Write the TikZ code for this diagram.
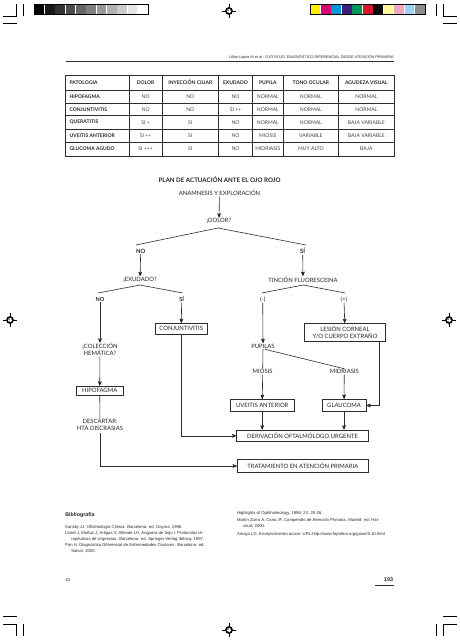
\documentclass[tikz,border=0pt]{standalone}
\usepackage{fontspec}
\setmainfont{Lato}
\newfontfamily\arialfont{Liberation Sans}
\usetikzlibrary{arrows,calc}
\definecolor{line_gray}{RGB}{45,45,45}
\definecolor{text_gray}{RGB}{40,40,40}
\definecolor{cell_gray}{RGB}{70,70,70}
\definecolor{bar_yel}{RGB}{255,236,0}
\definecolor{bar_mag}{RGB}{214,0,110}
\definecolor{bar_cya}{RGB}{0,150,214}
\definecolor{bar_pur}{RGB}{58,31,122}
\definecolor{bar_gre}{RGB}{0,149,90}
\definecolor{bar_red}{RGB}{215,24,42}
\definecolor{bar_bla}{RGB}{10,10,10}
\definecolor{bar_lye}{RGB}{255,246,160}
\definecolor{bar_pin}{RGB}{243,166,192}
\definecolor{bar_lbl}{RGB}{158,211,240}
\definecolor{bar_gra}{RGB}{140,140,140}

\begin{document}
\begin{tikzpicture}[x=1pt,y=-1pt,>=stealth',semithick]
    \tikzstyle{lbl}=[text=text_gray, font=\fontsize{5.9}{6.6}\selectfont, inner sep=0.5pt, align=center]
    \tikzstyle{box}=[lbl, draw=line_gray, thick, inner sep=0pt]
    \tikzstyle{tab}=[draw=line_gray, semithick]
    \tikzstyle{thead}=[text=text_gray, font=\fontsize{5}{6}\selectfont\bfseries, inner sep=0pt]
    \tikzstyle{tcell}=[text=cell_gray, font=\fontsize{5.1}{6}\selectfont, inner sep=0pt]
    \tikzstyle{bib}=[text=text_gray, font=\arialfont\fontsize{4.2}{5}\selectfont, inner sep=0pt, anchor=base west]
    \tikzstyle{prmark}=[draw=black, line width=0.45pt]
    \tikzstyle{wire}=[draw=line_gray]

    \useasboundingbox[fill=white] (0,0) rectangle (460,640);

    % print marks
    \foreach \i in {0,...,10}{
      \pgfmathtruncatemacro{\g}{100-10*\i}
      \fill[black!\g] (34.5+10.36*\i,4.5) rectangle ++(9.7,9.5);
    }
    \draw[prmark] (34,4) rectangle (148,14.5);
    \foreach \c [count=\i from 0] in {bar_yel,bar_mag,bar_cya,bar_pur,bar_gre,bar_red,bar_bla,bar_lye,bar_pin,bar_lbl,bar_gra}
      \fill[\c] (310.5+10.45*\i,4.5) rectangle ++(9.8,9.5);
    \draw[prmark] (310,4) rectangle (425,14.5);
    \foreach \sx/\ox in {1/0,-1/460}
      \foreach \sy/\oy in {1/0,-1/640}{
        \draw[prmark] (\ox+\sx*3.3,\oy+\sy*16) -- (\ox+\sx*16.7,\oy+\sy*16) -- (\ox+\sx*16.7,\oy+\sy*4);
        \draw[prmark] (\ox+\sx*23.3,\oy+\sy*4) -- (\ox+\sx*23.3,\oy+\sy*16);
        \draw[prmark] (\ox+\sx*3.3,\oy+\sy*23.3) -- (\ox+\sx*16.7,\oy+\sy*23.3);
      }
    \foreach \rx/\ry in {229/11,10/320,449/320,229/630}{
      \draw[prmark] (\rx-7,\ry) -- (\rx+7,\ry) (\rx,\ry-7) -- (\rx,\ry+7);
      \draw[black, line width=1.3pt, fill=black!45] (\rx,\ry) circle (3.2);
      \draw[white, line width=0.4pt] (\rx-1.8,\ry) -- (\rx+1.8,\ry) (\rx,\ry-1.8) -- (\rx,\ry+1.8);
    }

    % running head
    \node[text=text_gray, font=\arialfont\fontsize{3.8}{4}\selectfont, inner sep=0pt, anchor=base east] (head) at (394,58.5)
      {Lilián López M et al - OJO ROJO. DIAGNÓSTICO DIFERENCIAL DESDE ATENCIÓN PRIMARIA};
    \draw[draw=line_gray, line width=0.6pt] (66,61) -- (394,61);

    % table
    \foreach \x in {129,162.3,218.3,252.7,283,338.7}
      \draw[tab] (\x,75) -- (\x,156);
    \foreach \y in {90,103,115.7,129,142.3}
      \draw[tab] (65.7,\y) -- (394,\y);
    \draw[tab, line width=1pt] (65.7,75) rectangle (394,156);
    \node[thead, anchor=west] at (69.3,82.5) {PATOLOGIA};
    \foreach \x/\t in {145.65/DOLOR,190.3/INYECCIÓN CILIAR,235.5/EXUDADO,267.85/PUPILA,310.85/TONO OCULAR,366.35/AGUDEZA VISUAL}
      \node[thead] at (\x,82.5) {\t};
    \foreach \y/\p/\a/\b/\c/\d/\e/\f in {
        96.5/HIPOFAGMA/NO/NO/NO/NORMAL/NORMAL/NORMAL,
        109.35/CONJUNTIVITIS/NO/NO/SI ++/NORMAL/NORMAL/NORMAL,
        122.35/QUERATITIS/SI +/SI/NO/NORMAL/NORMAL/BAJA VARIABLE,
        135.65/UVEITIS ANTERIOR/SI ++/SI/NO/MIOSIS/VARIABLE/BAJA VARIABLE,
        149.15/GLUCOMA AGUDO/SI +++/SI/NO/MIDRIASIS/MUY ALTO/BAJA}{
      \node[thead, anchor=west] at (69.3,\y) {\p};
      \node[tcell] at (145.65,\y) {\a};
      \node[tcell] at (190.3,\y) {\b};
      \node[tcell] at (235.5,\y) {\c};
      \node[tcell] at (267.85,\y) {\d};
      \node[tcell] at (310.85,\y) {\e};
      \node[tcell] at (366.35,\y) {\f};
    }

    % flow chart
    \node[lbl, font=\fontsize{6.2}{7}\selectfont\bfseries] (title) at (219.5,180) {PLAN DE ACTUACIÓN ANTE EL OJO ROJO};
    \node[lbl] (anam)   at (219.5,193)   {ANAMNESIS Y EXPLORACIÓN};
    \node[lbl] (dolor)  at (219,221)     {¡DOLOR?};
    \node[lbl, font=\fontsize{5.9}{6.6}\selectfont\bfseries] (noA) at (140.7,251.2) {NO};
    \node[lbl, font=\fontsize{5.9}{6.6}\selectfont\bfseries] (siA) at (302.7,251.2) {SÍ};
    \node[lbl] (exud)   at (140,279.5)   {¡EXUDADO?};
    \node[lbl] (tinc)   at (303,279.5)   {TINCIÓN FLUORESCEINA};
    \node[lbl, font=\fontsize{5.6}{6.6}\selectfont\bfseries] (noB) at (100,299.3) {NO};
    \node[lbl, font=\fontsize{5.6}{6.6}\selectfont\bfseries] (siB) at (181.7,299.3) {SÍ};
    \node[lbl] (neg)    at (262.7,299.3) {(-)};
    \node[lbl] (pos)    at (344,299.3)   {(+)};
    \node[lbl] (colec)  at (100,349.5)   {¡COLECCIÓN\\HEMÁTICA?};
    \node[box, minimum width=52, minimum height=11] (conj) at (181.2,328.8) {CONJUNTIVITIS};
    \node[box, minimum width=81.4, minimum height=17.7] (lesion) at (345,332.2) {LESIÓN CORNEAL\\Y/O CUERPO EXTRAÑO};
    \node[lbl] (pupil)  at (263,346)     {PUPILAS};
    \node[lbl] (miosis) at (262.7,371.7) {MIOSIS};
    \node[lbl] (midri)  at (344.3,371.7) {MIDRIASIS};
    \node[box, minimum width=47.3, minimum height=9.7] (hipo) at (99.7,390.8) {HIPOFAGMA};
    \node[box, minimum width=64.3, minimum height=12.4] (uveit) at (262.2,405.5) {UVEITIS ANTERIOR};
    \node[box, minimum width=44, minimum height=12.4] (glauc) at (344,405.5) {GLAUCOMA};
    \node[lbl] (descar) at (100,425)     {DESCARTAR:\\HTA DISCRASIAS};
    \node[box, minimum width=131.6, minimum height=11.7] (deriv) at (302.5,435.8) {DERIVACIÓN OFTALMÓLOGO URGENTE};
    \node[box, minimum width=131, minimum height=13.4] (trat) at (302.8,466) {TRATAMIENTO EN ATENCIÓN PRIMARIA};

    \coordinate (dolorF) at (218,228);
    \coordinate (noAF)   at (136,245);
    \coordinate (siAF)   at (306,245);
    \coordinate (exudF)  at (140,285);
    \coordinate (noBF)   at (98,293);
    \coordinate (siBF)   at (182.7,293);
    \coordinate (tincF)  at (303.3,285);
    \coordinate (negF)   at (261.7,293);
    \coordinate (posF)   at (345,293);
    \coordinate (pupF)   at (265,349.3);
    \coordinate (descB)  at (100,433);

    \path[wire]
     (anam)   edge[->] (dolor)
     (dolorF) edge[-]  (noAF)
     (dolorF) edge[-]  (siAF)
     (noA)    edge[->] (exud)
     (siA)    edge[->] (tinc)
     (exudF)  edge[-]  (noBF)
     (exudF)  edge[-]  (siBF)
     (tincF)  edge[-]  (negF)
     (tincF)  edge[-]  (posF)
     (noB)    edge[->] (colec)
     (siB)    edge[->] (conj)
     (neg)    edge[->] (pupil)
     (pos)    edge[->] (lesion)
     (pupil)  edge[-]  (miosis)
     (pupF)   edge[-]  (midri.north)
     (colec)  edge[->] (hipo)
     (hipo)   edge[-]  (descar)
     (miosis) edge[->] (uveit)
     (midri)  edge[->] (glauc)
     (uveit)  edge[->] (uveit.south |- deriv.north)
     (glauc)  edge[->] (glauc.south |- deriv.north)
     ;
    \draw[wire, ->] (conj.south) |- (deriv.west);
    \draw[wire, ->] (descB) |- (trat.west);
    \draw[wire, ->] ([xshift=-6.7]lesion.south east) |- (glauc.east);

    % references
    \node[text=text_gray, font=\arialfont\fontsize{5.3}{6}\selectfont\bfseries, inner sep=0pt, anchor=base west] (bibl) at (65,516.3) {Bibliografía};
    \node[bib] (ref1)  at (65,528.8)  {Kansky JJ. Oftalmología Clínica. Barcelona: ed. Doyma; 1996.};
    \node[bib] (ref2)  at (65,534.8)  {Lloret J, Muñoz J, Artigas V, Allende LH, Anguera de Sojo I. Protocolos te-};
    \node[bib] (ref2b) at (71,540.5)  {rapéuticos de Urgencias. Barcelona: ed. Springer-Verlag Ibérica; 1997.};
    \node[bib] (ref3)  at (65,546.5)  {Pan H. Diagnóstico Diferencial de Enfermedades Oculares. Barcelona: ed.};
    \node[bib] (ref3b) at (71,552.2)  {Salvat; 2000.};
    \node[bib] (ref4)  at (236.7,514.8) {Highlights of Ophthalmology, 1996; 23: 25-26.};
    \node[bib] (ref5)  at (236.7,521.5) {Martín Zurro A, Cano JF. Compendio de Atención Primaria. Madrid: ed. Har-};
    \node[bib] (ref5b) at (242.7,527.5) {court; 2000.};
    \node[bib] (ref6)  at (236.7,535.8) {Amaya LG. Envejecimiento ocular. URL:http://www.fepafem.org/guias/9.10.html};

    % folios
    \node[text=text_gray, font=\arialfont\fontsize{4.6}{5}\selectfont, inner sep=0pt] (fol1) at (68,580) {41};
    \node[text=text_gray, font=\arialfont\fontsize{5.4}{6}\selectfont\bfseries, inner sep=0pt] (fol2) at (388.5,580) {193};
    \draw[draw=line_gray, line width=0.6pt] (375,585.3) -- (394,585.3);
\end{tikzpicture}
\end{document}
